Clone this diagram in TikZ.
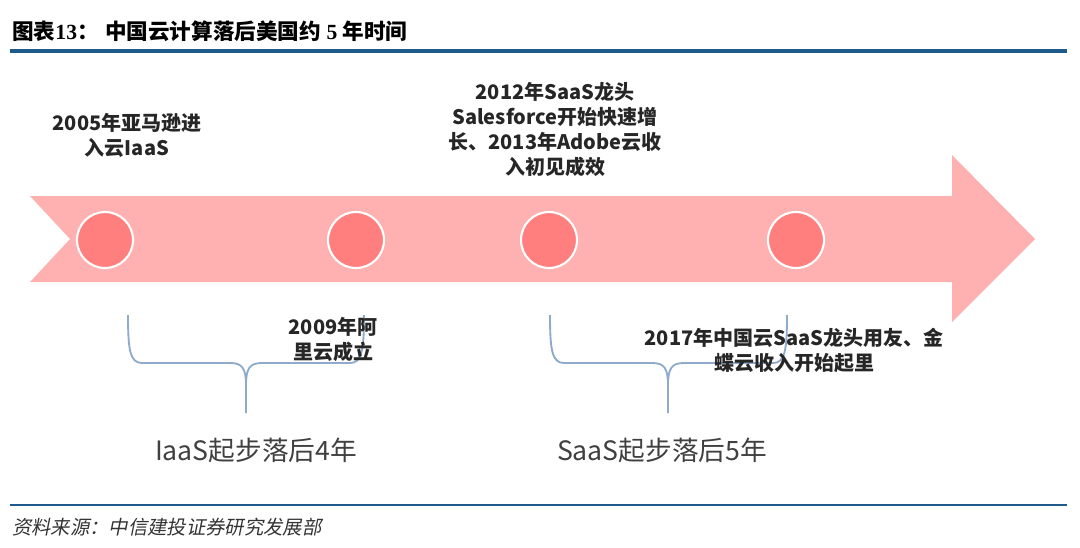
\documentclass[tikz,border=0pt]{standalone}
\usepackage{fontspec}
\usepackage{xcolor}
\setmainfont{Liberation Serif}
\newfontfamily\cjk{Noto Sans CJK SC}
\newfontfamily\cjkslant[FakeSlant=0.2]{Noto Sans CJK SC}
\definecolor{barblue}{HTML}{1F5A8C}
\definecolor{arrowpink}{HTML}{FFB1B1}
\definecolor{dotred}{HTML}{FF7F7F}
\definecolor{braceblue}{HTML}{8FAACB}

\begin{document}
\begin{tikzpicture}[x=0.75pt, y=-0.75pt,
    dot/.style={circle, draw=white, line width=1.6pt, fill=dotred, minimum size=42pt, inner sep=0pt},
    event/.style={align=center, inner sep=0pt, font=\cjk\bfseries\fontsize{15}{18.75}\selectfont, text=black!85},
    lag/.style={inner sep=0pt, font=\cjk\fontsize{20}{24}\selectfont, text=black!75},
    bracepath/.style={draw=braceblue, line width=1.4pt, line join=round}]
    \useasboundingbox (0,0) rectangle (1080,547);
    % title and rules
    \node (T) [anchor=west, inner sep=0pt, font=\bfseries\fontsize{16.2}{18}\selectfont] at (12,31) {{\cjk 图表}13{\cjk ：}\hspace{0.3em}{\cjk 中国云计算落后美国约}~5~{\cjk 年时间}};
    \draw[barblue, line width=2.4pt] (10,51) -- (1067,51);
    \draw[barblue, line width=1.9pt] (10,505) -- (1067,505);
    \node (S) [anchor=west, inner sep=0pt, font=\cjkslant\fontsize{14.5}{16}\selectfont, text=black!80] at (12,527) {资料来源：中信建投证券研究发展部};
    % timeline arrow
    \fill[arrowpink] (30,196) -- (952,196) -- (952,155) -- (1035,239) -- (952,322) -- (952,282) -- (30,282) -- (70,239) -- cycle;
    \node (Y05) [dot] at (105,240) {};
    \node (Y09) [dot] at (356,240) {};
    \node (Y12) [dot] at (549,240) {};
    \node (Y17) [dot] at (796,240) {};
    % braces
    \foreach \l/\c/\r in {128/246/364, 550/668/787} {
      \draw[bracepath] (\l,315) .. controls (\l,350) and (\l+2,363) .. (\l+14,363) -- (\c-16,363) .. controls (\c-4,363) and (\c,368) .. (\c,385) -- (\c,413);
      \draw[bracepath] (\r,315) .. controls (\r,350) and (\r-2,363) .. (\r-14,363) -- (\c+16,363) .. controls (\c+4,363) and (\c,368) .. (\c,385);
    }
    \node (E05) [event] at (127,135) {2005年亚马逊进\\入云IaaS};
    \node (E12) [event] at (555,130) {2012年SaaS龙头\\Salesforce开始快速增\\长、2013年Adobe云收\\入初见成效};
    \node (E09) [event] at (333,339) {2009年阿\\里云成立};
    \node (E17) [event] at (794,350) {2017年中国云SaaS龙头用友、金\\蝶云收入开始起里};
    \node (L4) [lag] at (256,450) {IaaS起步落后4年};
    \node (L5) [lag] at (662,450) {SaaS起步落后5年};
\end{tikzpicture}
\end{document}
